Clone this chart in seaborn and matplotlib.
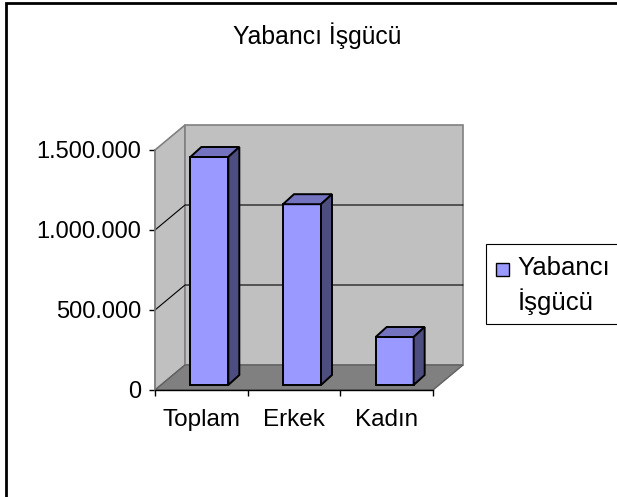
import matplotlib
matplotlib.use("Agg")
import numpy as np
import pandas as pd
import seaborn as sns
import matplotlib.pyplot as plt
from matplotlib.patches import Polygon, Rectangle
from matplotlib.lines import Line2D
from matplotlib.transforms import offset_copy, IdentityTransform

# ---- data ----
categories = ["Toplam", "Erkek", "Kadın"]
values = [1425000, 1130000, 300000]
series_name = "Yabancı\nİşgücü"
title = "Yabancı İşgücü"
yticks = [0, 500000, 1000000, 1500000]
ytick_labels = ["0", "500.000", "1.000.000", "1.500.000"]

W, H, DPI = 617, 497, 100
sns.set_theme(style="white")
plt.rcParams["font.family"] = ["Liberation Sans", "DejaVu Sans"]

fig = plt.figure(figsize=(W / DPI, H / DPI), dpi=DPI)
fig.patch.set_facecolor("white")

# front plane (image pixel coords, y down)
FX0, FX1, FY0, FY1 = 155, 433, 150, 390
ax = fig.add_axes([FX0 / W, 1 - FY1 / H, (FX1 - FX0) / W, (FY1 - FY0) / H])
ax.set_facecolor("none")

DX, DY = 30, 25      # wall depth (display px)
BOX, BOY = 8, 5      # bar front-face offset
BDX, BDY = 11, 10    # bar depth

df = pd.DataFrame({"cat": categories, "val": values})
sns.barplot(data=df, x="cat", y="val", color="#9999FF", saturation=1,
            width=0.41, edgecolor="black", linewidth=1.4, ax=ax, zorder=3)
ax.set_xlim(-0.5, 2.5)
ax.set_ylim(0, yticks[-1])
ax.set_xlabel("")
ax.set_ylabel("")

ID = IdentityTransform()


def D(x, y, ox=0, oy=0):
    px, py = ax.transData.transform((x, y))
    return (px + ox, py + oy)


top = yticks[-1]
wall_c = "#C0C0C0"
edge_c = "#808080"
# left wall
ax.add_patch(Polygon([D(-0.5, 0), D(-0.5, top), D(-0.5, top, DX, DY), D(-0.5, 0, DX, DY)],
                     closed=True, facecolor=wall_c, edgecolor=edge_c, lw=1.2,
                     transform=ID, clip_on=False, zorder=0))
# back wall
ax.add_patch(Polygon([D(-0.5, 0, DX, DY), D(-0.5, top, DX, DY), D(2.5, top, DX, DY), D(2.5, 0, DX, DY)],
                     closed=True, facecolor=wall_c, edgecolor=edge_c, lw=1.2,
                     transform=ID, clip_on=False, zorder=0))
# floor
ax.add_patch(Polygon([D(-0.5, 0), D(2.5, 0), D(2.5, 0, DX, DY), D(-0.5, 0, DX, DY)],
                     closed=True, facecolor="#808080", edgecolor="#606060", lw=1.0,
                     transform=ID, clip_on=False, zorder=0.5))
# gridlines
for v in yticks[1:-1]:
    pts = [D(-0.5, v), D(-0.5, v, DX, DY), D(2.5, v, DX, DY)]
    ax.add_line(Line2D([p[0] for p in pts], [p[1] for p in pts], color="black",
                       lw=0.8, transform=ID, clip_on=False, zorder=0.8))

# 3D bars
for p in list(ax.patches):
    if not isinstance(p, Rectangle):
        continue
    x0, w, h = p.get_x(), p.get_width(), p.get_height()
    p.set_transform(offset_copy(ax.transData, fig=fig, x=BOX, y=BOY, units="dots"))
    p.set_clip_on(False)
    topf = [D(x0, h, BOX, BOY), D(x0 + w, h, BOX, BOY),
            D(x0 + w, h, BOX + BDX, BOY + BDY), D(x0, h, BOX + BDX, BOY + BDY)]
    side = [D(x0 + w, 0, BOX, BOY), D(x0 + w, h, BOX, BOY),
            D(x0 + w, h, BOX + BDX, BOY + BDY), D(x0 + w, 0, BOX + BDX, BOY + BDY)]
    ax.add_patch(Polygon(topf, closed=True, facecolor="#7373C0", edgecolor="black",
                         lw=1.4, transform=ID, clip_on=False, zorder=3))
    ax.add_patch(Polygon(side, closed=True, facecolor="#4D4D80", edgecolor="black",
                         lw=1.4, transform=ID, clip_on=False, zorder=3))

# axes styling
for s in ["top", "right"]:
    ax.spines[s].set_visible(False)
ax.spines["bottom"].set_color("black")
ax.spines["bottom"].set_linewidth(1.0)
ax.spines["left"].set_color(edge_c)
ax.spines["left"].set_linewidth(1.2)

ax.set_yticks(yticks, ytick_labels)
ax.tick_params(axis="y", left=True, length=4, width=1, color="black",
               labelsize=17, pad=6, labelcolor="black")
ax.set_xticks([-0.5, 0.5, 1.5, 2.5], ["", "", "", ""])
ax.set_xticks([0, 1, 2], categories, minor=True)
ax.tick_params(axis="x", which="major", bottom=True, length=4, width=1, color="black")
ax.tick_params(axis="x", which="minor", bottom=True, length=0, labelsize=17.5,
               pad=14, labelcolor="black")


def F(x, y):
    return (x / W, 1 - y / H)


# title
fig.text(*F(317, 36), title, ha="center", va="center", fontsize=17.8, color="black")

# legend (manual, partially cut by figure edge)
lx0, ly0, lx1, ly1 = 486, 244, 640, 324
fig.add_artist(Rectangle(F(lx0, ly1), (lx1 - lx0) / W, (ly1 - ly0) / H,
                         transform=fig.transFigure, facecolor="white",
                         edgecolor="black", lw=0.8))
fig.add_artist(Rectangle(F(496, 276), 13 / W, 13 / H, transform=fig.transFigure,
                         facecolor="#9999FF", edgecolor="black", lw=1.0))
l1, l2 = series_name.split("\n")
fig.text(*F(517, 268), l1, ha="left", va="center", fontsize=18.5, color="black")
fig.text(*F(518, 302), l2, ha="left", va="center", fontsize=18.5, color="black")

# outer chart border (only top and left visible)
fig.add_artist(Rectangle((6 / W, -0.1), 1.2, 1 - 3 / H + 0.1, transform=fig.transFigure,
                         fill=False, edgecolor="black", lw=2))

fig.savefig("out.png", dpi=DPI, facecolor="white")
